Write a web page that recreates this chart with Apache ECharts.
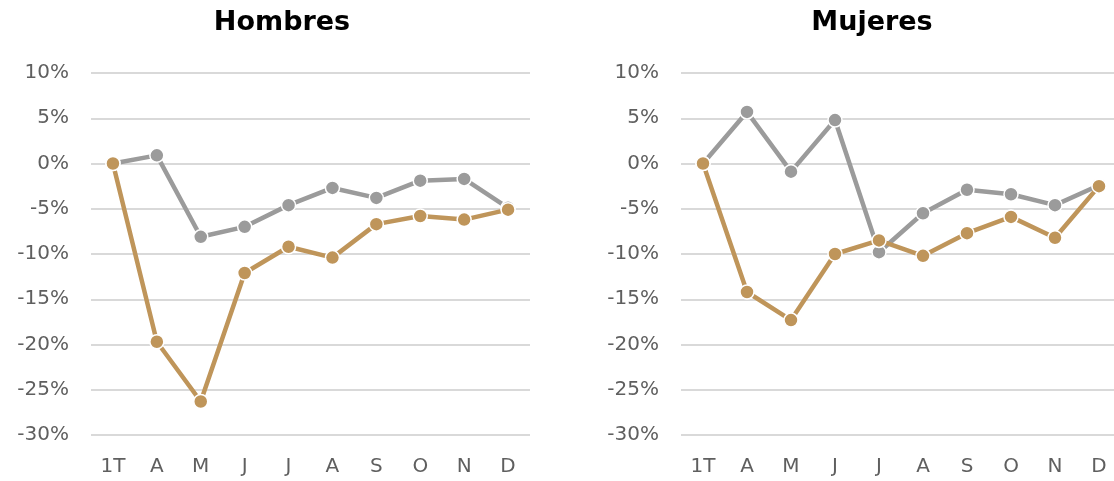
<!DOCTYPE html>
<html>
<head>
<meta charset="utf-8">
<script src="https://cdn.jsdelivr.net/npm/echarts@6/dist/echarts.min.js"></script>
<style>
html,body{margin:0;padding:0;background:#fff;overflow:hidden;width:1114px;height:481px;}
#chart{width:1121px;height:481px;}
</style>
</head>
<body>
<div id="chart"></div>
<script>
var categories = ['1T','A','M','J','J','A','S','O','N','D'];
var hombresGris = [0, 0.9, -8.1, -7.0, -4.6, -2.7, -3.8, -1.9, -1.7, -4.9];
var hombresOro  = [0, -19.7, -26.3, -12.1, -9.2, -10.4, -6.7, -5.8, -6.2, -5.1];
var mujeresGris = [0, 5.7, -0.9, 4.8, -9.8, -5.5, -2.9, -3.4, -4.6, -2.4];
var mujeresOro  = [0, -14.2, -17.3, -10.0, -8.5, -10.2, -7.7, -5.9, -8.2, -2.5];
var panelTitles = ['Hombres', 'Mujeres'];

var GRAY = '#9B9B9B', GOLD = '#BF955A';
var FONT = 'DejaVu Sans';

function xAxis(i){
  return {
    type:'category', gridIndex:i, data:categories, boundaryGap:true,
    axisLine:{show:false}, axisTick:{show:false},
    axisLabel:{color:'#5F5F5F', fontSize:20, fontFamily:FONT, margin:22}
  };
}
function yAxis(i){
  return {
    type:'value', gridIndex:i, min:-30, max:10, interval:5,
    axisLine:{show:false}, axisTick:{show:false},
    axisLabel:{color:'#5F5F5F', fontSize:20, fontFamily:FONT, margin:22,
      formatter:function(v){return v+'%';}},
    splitLine:{lineStyle:{color:'#D9D9D9', width:2}}
  };
}
function line(i, data, color){
  return {
    type:'line', xAxisIndex:i, yAxisIndex:i, data:data,
    symbol:'circle', symbolSize:14,
    lineStyle:{color:color, width:4.5},
    itemStyle:{color:color, borderColor:'#fff', borderWidth:1.5},
    animation:false
  };
}

var chart = echarts.init(document.getElementById('chart'));
chart.setOption({
  backgroundColor:'#fff',
  animation:false,
  title:[
    {text:panelTitles[0], left:277, top:4, textAlign:'center',
     textStyle:{fontFamily:FONT, fontWeight:'bold', fontSize:27, color:'#000'}},
    {text:panelTitles[1], left:867, top:4, textAlign:'center',
     textStyle:{fontFamily:FONT, fontWeight:'bold', fontSize:27, color:'#000'}}
  ],
  grid:[
    {left:91, width:439, top:73, bottom:46},
    {left:681, width:440, top:73, bottom:46}
  ],
  xAxis:[xAxis(0), xAxis(1)],
  yAxis:[yAxis(0), yAxis(1)],
  series:[
    line(0, hombresGris, GRAY),
    line(0, hombresOro, GOLD),
    line(1, mujeresGris, GRAY),
    line(1, mujeresOro, GOLD)
  ]
});
</script>
</body>
</html>
